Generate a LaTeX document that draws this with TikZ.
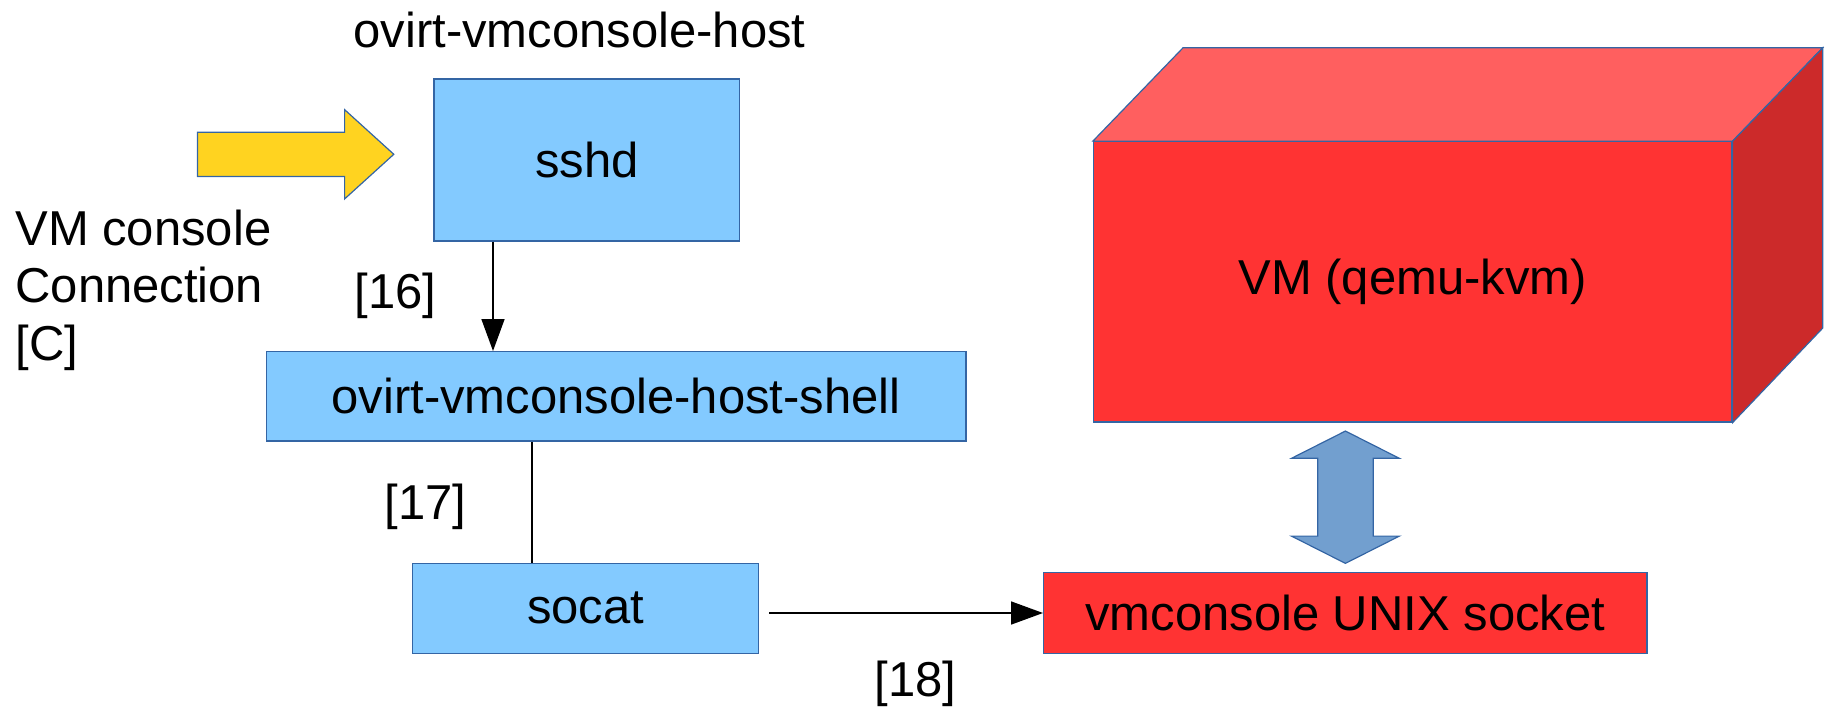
\documentclass[tikz,border=0pt]{standalone}
\usepackage{fontspec}
\setmainfont{Liberation Sans}
\usetikzlibrary{arrows.meta,calc}
\definecolor{boxblue}{HTML}{83CAFF}
\definecolor{edgeblue}{HTML}{3465A4}
\definecolor{vmred}{HTML}{FF3333}
\definecolor{vmtop}{HTML}{FF5F5F}
\definecolor{vmside}{HTML}{CC2A2A}
\definecolor{arrowyellow}{HTML}{FFD320}
\definecolor{arrowblue}{HTML}{729FCF}
\begin{document}
\begin{tikzpicture}[x=0.5pt,y=-0.5pt,
  font=\fontsize{24.5}{28.75}\selectfont,
  bluebox/.style={draw=edgeblue, fill=boxblue, line width=0.7pt, inner sep=0pt},
  redbox/.style={draw=edgeblue, fill=vmred, line width=0.6pt, inner sep=0pt},
  label/.style={inner sep=0pt},
  conn/.style={draw=black, line width=0.8pt},
  connarrow/.style={conn, -{Triangle[length=16pt,width=11.5pt]}},
  bigarrow/.style={draw=edgeblue, line width=0.6pt, line join=miter}]
\useasboundingbox (0,0) rectangle (1836,707);

% boxes
\node[bluebox, minimum width=152.95pt, minimum height=81pt] (sshd) at (586.75,160) {sshd};
\node[bluebox, minimum width=349.85pt, minimum height=44.65pt] (shell) at (616.15,396.35) {ovirt-vmconsole-host-shell};
\node[bluebox, minimum width=173pt, minimum height=45pt] (socat) at (585.7,608.3) {socat};
\node[redbox, minimum width=301.65pt, minimum height=40.3pt] (sock) at (1345.25,613) {vmconsole UNIX socket};

% VM cube
\node[redbox, minimum width=319.25pt, minimum height=140.15pt] (vm) at (1412.75,281.85) {VM (qemu-kvm)};
\draw[redbox, fill=vmtop] (vm.north west) -- ++(90.2,-93.4) -- ($(vm.north east)+(90.2,-93.4)$) -- (vm.north east) -- cycle;
\draw[redbox, fill=vmside] (vm.north east) -- ++(90.2,-93.4) -- ++(0,280.3) -- (vm.south east) -- cycle;

% labels
\node[label, anchor=base] (hostlbl) at (579.5,47) {ovirt-vmconsole-host};
\node[label, anchor=north west, align=left] (conlbl) at (15,209.5) {VM console\\Connection\\{[C]}};
\node[label, anchor=base west] (l16) at (354,308) {[16]};
\node[label, anchor=base west] (l17) at (384,519) {[17]};
\node[label, anchor=base west] (l18) at (874,696) {[18]};

% connectors
\coordinate (x16) at (493,0);
\coordinate (x17) at (531.7,0);
\draw[connarrow] (x16 |- sshd.south) -- (x16 |- shell.north);
\draw[conn] (x17 |- shell.south) -- (x17 |- socat.north);
\draw[connarrow, shorten <=5pt] (socat.east |- sock.west) -- (sock.west);

% yellow incoming arrow
\coordinate (ytip) at (393.8,154.3);
\draw[bigarrow, fill=arrowyellow] (ytip) -- ++(-49.2,-44.65) -- ++(0,22.5) -- ++(-147.2,0) -- ++(0,44.3) -- ++(147.2,0) -- ++(0,22.5) -- cycle;

% double arrow between VM and socket
\coordinate (dbl) at (1345.4,497.2);
\draw[bigarrow, fill=arrowblue] (dbl) ++(0,-66.15) -- ++(53.9,27.25) -- ++(-26.15,0) -- ++(0,77.8) -- ++(26.15,0) -- ++(-53.9,27.25) -- ++(-53.9,-27.25) -- ++(26.15,0) -- ++(0,-77.8) -- ++(-26.15,0) -- cycle;
\end{tikzpicture}
\end{document}
